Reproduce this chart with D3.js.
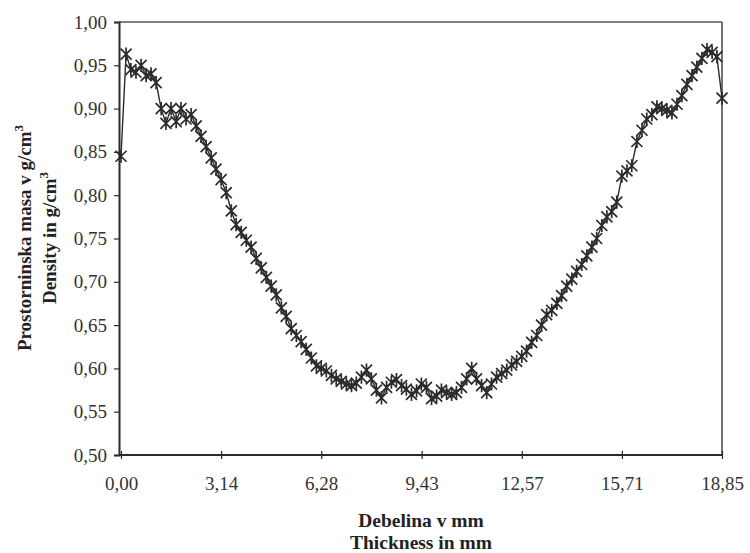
<!DOCTYPE html>
<html><head><meta charset="utf-8">
<script src="https://cdn.jsdelivr.net/npm/d3@7/dist/d3.min.js"></script>
<style>body{margin:0;background:#fff}svg{display:block}</style>
</head><body>
<svg id="c" width="750" height="553"></svg>
<script>
const thickness = [0.00,0.16,0.31,0.47,0.63,0.79,0.94,1.10,1.26,1.41,1.57,1.73,1.88,2.04,2.20,2.36,2.51,2.67,2.83,2.98,
3.14,3.30,3.46,3.61,3.77,3.93,4.08,4.24,4.40,4.56,4.71,4.87,5.03,5.18,5.34,5.50,5.65,5.81,5.97,6.13,
6.28,6.44,6.60,6.75,6.91,7.07,7.23,7.38,7.54,7.70,7.85,8.01,8.17,8.33,8.48,8.64,8.80,8.95,9.11,9.27,
9.42,9.58,9.74,9.90,10.05,10.21,10.37,10.52,10.68,10.84,11.00,11.15,11.31,11.47,11.62,11.78,11.94,12.10,12.25,12.41,
12.57,12.72,12.88,13.04,13.19,13.35,13.51,13.67,13.82,13.98,14.14,14.29,14.45,14.61,14.77,14.92,15.08,15.24,15.39,15.55,
15.71,15.87,16.02,16.18,16.34,16.49,16.65,16.81,16.96,17.12,17.28,17.44,17.59,17.75,17.91,18.06,18.22,18.38,18.54,18.69,18.85];
const density = [0.845,0.963,0.945,0.942,0.950,0.938,0.940,0.930,0.900,0.883,0.900,0.885,0.900,0.888,0.893,0.880,0.868,0.856,0.843,0.830,
0.818,0.803,0.782,0.766,0.757,0.748,0.740,0.727,0.716,0.705,0.695,0.685,0.670,0.660,0.646,0.638,0.631,0.622,0.612,0.603,
0.600,0.597,0.592,0.588,0.585,0.582,0.580,0.583,0.590,0.598,0.588,0.575,0.566,0.578,0.584,0.587,0.580,0.576,0.570,0.574,
0.582,0.578,0.565,0.568,0.575,0.572,0.570,0.572,0.578,0.588,0.600,0.588,0.580,0.572,0.582,0.590,0.594,0.598,0.604,0.608,
0.614,0.620,0.630,0.638,0.650,0.662,0.667,0.675,0.684,0.695,0.703,0.712,0.720,0.730,0.740,0.750,0.765,0.775,0.781,0.792,
0.822,0.828,0.834,0.862,0.875,0.888,0.893,0.902,0.900,0.898,0.895,0.905,0.915,0.928,0.938,0.948,0.958,0.968,0.965,0.960,0.912];
const xTicks = [0, 3.14, 6.28, 9.43, 12.57, 15.71, 18.85];
const xTickLabels = ["0,00","3,14","6,28","9,43","12,57","15,71","18,85"];
const yTicks = [0.50,0.55,0.60,0.65,0.70,0.75,0.80,0.85,0.90,0.95,1.00];
const xTitle = ["Debelina v mm", "Thickness in mm"];
const yTitle = ["Prostorninska masa v g/cm", "Density in g/cm"];

const svg = d3.select("#c");
const L = 119, R = 722, T = 22, B = 455;
const x = d3.scaleLinear().domain([0, 18.85]).range([L + 2, R]);
const y = d3.scaleLinear().domain([0.5, 1.0]).range([B, T]);
const ink = "#2b2b2b";
const font = "'Liberation Serif','Times New Roman',serif";

// frame top/right
svg.append("line").attr("x1", L).attr("x2", R).attr("y1", T).attr("y2", T).attr("stroke", "#555").attr("stroke-width", 1.3);
svg.append("line").attr("x1", R).attr("x2", R).attr("y1", T).attr("y2", B).attr("stroke", "#444").attr("stroke-width", 1.5);

// y axis
const yAxis = d3.axisLeft(y).tickValues(yTicks).tickSize(5).tickPadding(7)
  .tickFormat(d => d3.format(".2f")(d).replace(".", ","));
const gy = svg.append("g").attr("transform", `translate(${L},0)`).call(yAxis);
gy.select(".domain").attr("stroke", ink).attr("stroke-width", 2);
gy.selectAll(".tick line").attr("stroke", ink).attr("stroke-width", 1.2);
gy.selectAll("text").attr("font-family", font).attr("font-size", 19).attr("fill", "#333");

// x axis
const xAxis = d3.axisBottom(x).tickValues(xTicks).tickSize(0).tickPadding(22)
  .tickFormat((d, i) => xTickLabels[i]);
const gx = svg.append("g").attr("transform", `translate(0,${B})`).call(xAxis);
gx.select(".domain").attr("d", `M${L},0H${R}`).attr("stroke", ink).attr("stroke-width", 2);
gx.selectAll(".tick").append("line").attr("y1", -4).attr("y2", 4).attr("stroke", ink).attr("stroke-width", 1.2);
gx.selectAll("text").attr("font-family", font).attr("font-size", 19).attr("fill", "#333");

// line
const pts = thickness.map((t, i) => [t, density[i]]);
svg.append("path").datum(pts)
  .attr("d", d3.line().x(d => x(d[0])).y(d => y(d[1])))
  .attr("fill", "none").attr("stroke", ink).attr("stroke-width", 1.4);

// star markers
const s = 5.5;
const mk = svg.append("g").attr("stroke", ink).attr("stroke-width", 1.7).attr("fill", "none");
mk.selectAll("path").data(pts).join("path")
  .attr("transform", d => `translate(${x(d[0])},${y(d[1])})`)
  .attr("d", `M${-s},${-s}L${s},${s}M${-s},${s}L${s},${-s}M0,${-s * 1.2}L0,${s * 1.2}`);

// x title
svg.append("text").attr("x", 421).attr("y", 527).attr("text-anchor", "middle")
  .attr("font-family", font).attr("font-weight", "bold").attr("font-size", 19.5).attr("fill", "#222").text(xTitle[0]);
svg.append("text").attr("x", 421).attr("y", 549).attr("text-anchor", "middle")
  .attr("font-family", font).attr("font-weight", "bold").attr("font-size", 19.5).attr("fill", "#222").text(xTitle[1]);

// y title
[[31, yTitle[0]], [56, yTitle[1]]].forEach(([px, txt]) => {
  const t = svg.append("text").attr("transform", `translate(${px},238) rotate(-90)`)
    .attr("text-anchor", "middle").attr("font-family", font).attr("font-weight", "bold")
    .attr("font-size", 19).attr("fill", "#222");
  t.append("tspan").text(txt);
  t.append("tspan").attr("dy", -8).attr("font-size", 13).text("3");
});
</script>
</body></html>
